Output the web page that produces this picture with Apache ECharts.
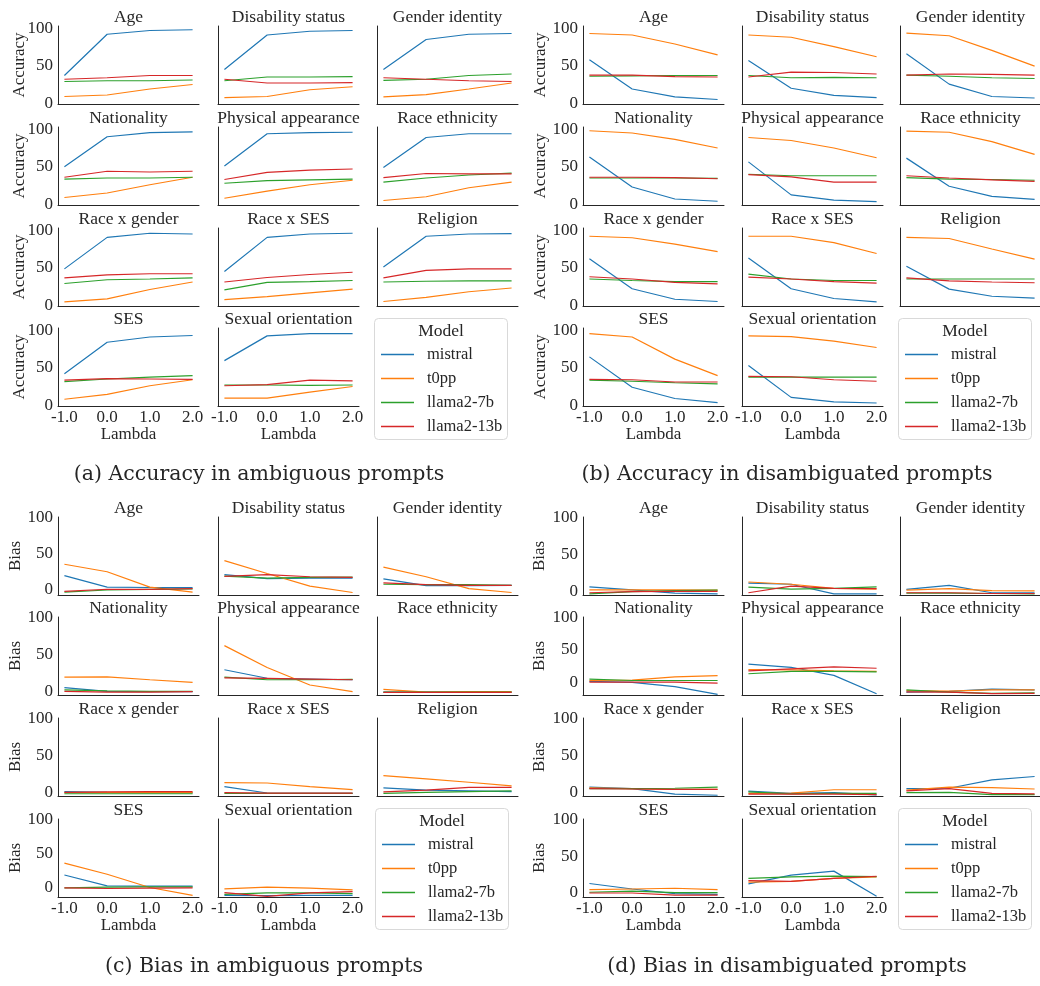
<!DOCTYPE html>
<html><head><meta charset="utf-8">
<script src="https://cdn.jsdelivr.net/npm/echarts@6/dist/echarts.min.js"></script>
<style>html,body{margin:0;padding:0;background:#fff}#c{width:1040px;height:986px}</style>
</head><body><div id="c"></div>
<script>
const categories = ['Age','Disability status','Gender identity','Nationality','Physical appearance','Race ethnicity','Race x gender','Race x SES','Religion','SES','Sexual orientation'];
const models = ['mistral','t0pp','llama2-7b','llama2-13b'];
const lambdas = [-1.0, 0.0, 1.0, 2.0];
const xTicks = [-1, 0, 1, 2];
const yTicks = [0, 50, 100];

// (a) Accuracy in ambiguous prompts — one row per category, values at lambdas
const accAmbMistral = [[37,92,97,98],[45,91,96,97],[45,85,92,93],[50,90,95.5,96.5],[51,94,95.5,96],[49,89,94,94],[48.5,90.5,96,95],[45,90.5,95,96],[51,92,95,95.5],[42,84,91,93],[59.5,92.5,95.5,95.5]];
const accAmbT0pp = [[9,11,19,25],[7.5,9,18,22],[8.5,11.5,19,27],[9,15,26,36],[8,17.5,26,32],[5,10,22,29.5],[4.5,8.5,21,31],[7.5,11.5,16.5,21.5],[5,10.5,18,23],[8,14.5,26,34],[9.5,9.5,17.5,25]];
const accAmbLlama7 = [[29,30,30,31],[30,35,35,35.5],[30.5,32,37,39],[33.5,35,35,36],[28,31.5,32.5,33.5],[29.5,35,39,41.5],[29,34,35,36.5],[20.5,30.5,31.5,33],[31,32,32.5,32.5],[31.5,35,37.5,39.5],[27,27,26.5,27]];
const accAmbLlama13 = [[32,34,37,37],[32,27,27,27.5],[34,32,30,29],[36,44,43,44],[33,42.5,45.5,47],[35.5,41,40.5,40.5],[36.5,40.5,42,42],[31,37,41,44],[36.5,46.5,48.5,48.5],[33.5,35.5,35,34.5],[26,27.5,33.5,32.5]];

// (b) Accuracy in disambiguated prompts
const accDisMistral = [[58,19,8.5,5],[57,20,10.5,7.5],[66,25.5,9,7],[63,23,7,4],[56.5,12.5,5.5,3.5],[61.5,24,10.5,6.5],[62,22,8,5],[63,22,9,4.5],[52,21.5,12,9.5],[64.5,24,9,3.5],[53,10.5,4.5,3]];
const accDisT0pp = [[93,91,79,64.5],[91,88,75.5,62],[93.5,90,70.5,49.5],[98,95,86.5,75],[89,85,75,62],[97.5,96,83.5,66.5],[92,90,81.5,71.5],[92,92,83.5,69],[90.5,89,75,61.5],[95.5,91,61.5,39.5],[92.5,91.5,85.5,77]];
const accDisLlama7 = [[36,36.5,37,37],[37,34,34.5,34],[37.5,36,34,33],[35,35,35,34.5],[40,38,38,38],[35.5,33.5,33,32],[35,33,31.5,31.5],[41.5,35,33,33],[35,35,35,35],[33.5,32,30,28.5],[37.5,37.5,37.5,37.5]];
const accDisLlama13 = [[37.5,37.5,35.5,35],[35,41.5,41,39],[37.5,39,38.5,37.5],[36,36,35.5,34],[39.5,36.5,29.5,29.5],[38,35,32.5,30.5],[38,35,30.5,28.5],[37.5,35,31.5,29.5],[36.5,32.5,31,30],[34.5,34,31,31],[38.5,38,34,32]];

// (c) Bias in ambiguous prompts
const biasAmbMistral = [[19,3,2.5,2.5],[20.5,15,15.5,15.5],[14.5,5,5,5.5],[6,1,0.5,0.5],[30,18.5,17.5,16.5],[0,0,0,0],[2,1,0.5,0.5],[8.5,0,-0.5,-0.5],[7,4,3,2],[18.5,2.5,2,2],[-11.5,-12,-11.5,-11.5]];
const biasAmbT0pp = [[35,24.5,3,-4],[40,22,4.5,-4.5],[31,17.5,1,-4.5],[20,20.5,16.5,13],[62.5,33,9.5,0.5],[3.5,0,0.5,0.5],[0.5,0.5,0.5,0.5],[14,13.5,8.5,4.5],[23.5,19,14.5,9.5],[36,19.5,0,-11.5],[-2,0.5,-1,-3.5]];
const biasAmbLlama7 = [[-4,-1,0,0.5],[18.5,15.5,16.5,17],[7,6.5,6.5,5.5],[3,1.5,1,1],[20,16.5,16.5,17],[0,0,0,0],[-1,-1,-1,-1],[-0.5,-0.5,-0.5,-0.5],[-0.5,1,2,3],[-0.5,0.5,1,1],[-10,-8,-8,-9]];
const biasAmbLlama13 = [[-3,0,0,1],[18,20.5,17.5,16.5],[9,6.5,5.5,5.5],[1,0,0,0.5],[19,18.5,17.5,16.5],[-0.5,-0.5,-0.5,-0.5],[1,1.5,2,2],[0.5,0,0,0],[1.5,4,7.5,7.5],[-0.5,-1.5,-1,-0.5],[-7.5,-13,-8,-6]];

// (d) Bias in disambiguated prompts
const biasDisMistral = [[7,3,-1.5,-2.5],[12,10.5,-2.5,-2.5],[3.5,9,-1,-1],[1,-0.5,-7,-19],[28,23,10.5,-18],[-15.5,-14.5,-11,-12],[7,5,-2.5,-4],[1.5,-1.5,-0.5,-3.5],[5,5.5,17,21.5],[12.5,5,-1.5,-2.5],[12,24,29.5,-5]];
const biasDisT0pp = [[3,3,3,2.5],[13.5,10.5,5,4],[2.5,4.5,2,1.5],[2.5,3,8,10],[19.5,19,17.5,16.5],[-13,-14,-12,-12],[6,5,4,4],[-1.5,-1,3.5,3.5],[3,7,6.5,4.5],[4,5,6,4],[14.5,15.5,19.5,21.5]];
const biasDisLlama7 = [[-2.5,0.5,2,2.5],[6.5,4,5,7],[-1.5,-1.5,-2,-2.5],[4.5,2.5,2.5,2.5],[13,16.5,16.5,16],[-12,-15.5,-17.5,-16.5],[5,5,5.5,7],[0.5,-2,-1.5,-1.5],[-0.5,0,-3,-3],[0.5,2,0,0],[19.5,21.5,22.5,22]];
const biasDisLlama13 = [[-1,0.5,1,1],[-1,8,5,4.5],[-1,-1,-2,-2],[0,0,0,-1.5],[17.5,20.5,23.5,21.5],[-15,-15.5,-18,-17.5],[5,4.5,4,4],[-2.5,-2.5,-2.5,-3],[2,5,-1.5,-2],[-0.5,-0.5,-3.5,-3.5],[16.5,15.5,19.5,22.5]];

const colors = ['#1f77b4','#ff7f0e','#2ca02c','#d62728'];
const FONT = 'Liberation Serif';
const CAPFONT = 'DejaVu Serif';
const TXT = '#262626';
const colW = 141, rowH = 78;

const panels = [
  {data:[accAmbMistral,accAmbT0pp,accAmbLlama7,accAmbLlama13], cols:[58,218,377], rows:[26,127,228,328], yName:'Accuracy', yNameX:19.5,
   yr:[[-1,103],[-1,103],[-1,103],[-1,103]], caption:'(a) Accuracy in ambiguous prompts', capX:259, capY:475, box:[374,318]},
  {data:[accDisMistral,accDisT0pp,accDisLlama7,accDisLlama13], cols:[583,742,900], rows:[26,127,228,328], yName:'Accuracy', yNameX:540.5,
   yr:[[-1,103],[-1,103],[-1,103],[-1,103]], caption:'(b) Accuracy in disambiguated prompts', capX:787, capY:475, box:[898,318]},
  {data:[biasAmbMistral,biasAmbT0pp,biasAmbLlama7,biasAmbLlama13], cols:[58,218,377], rows:[517,617,718,819], yName:'Bias', yNameX:15.5,
   yr:[[-8,101],[-4,101],[-4,101],[-14,101]], caption:'(c) Bias in ambiguous prompts', capX:264, capY:967, box:[375,808]},
  {data:[biasDisMistral,biasDisT0pp,biasDisLlama7,biasDisLlama13], cols:[583,742,900], rows:[517,617,718,819], yName:'Bias', yNameX:540,
   yr:[[-4,101],[-20,101],[-5,101],[-6,101]], caption:'(d) Bias in disambiguated prompts', capX:787, capY:967, box:[898,808]}
];

const grids=[], xAxes=[], yAxes=[], series=[], graphics=[], legends=[];
function txt(x,y,text,size,family,extra){
  return Object.assign({type:'text', x:x, y:y, silent:true, style:{text:text, fontSize:size, fontFamily:family, fill:TXT,
    textAlign:'center', align:'center', textVerticalAlign:'middle', verticalAlign:'middle'}}, extra||{});
}
panels.forEach(p=>{
  categories.forEach((cat,i)=>{
    const r=Math.floor(i/3), c=i%3;
    const left=p.cols[c], top=p.rows[r];
    const gi=grids.length;
    grids.push({left:left, top:top, width:colW, height:rowH, containLabel:false, outerBoundsMode:'none'});
    xAxes.push({gridIndex:gi, type:'value', min:-1.15, max:2.15,
      axisLine:{show:true, onZero:false, lineStyle:{color:TXT, width:1}}, axisTick:{show:false}, splitLine:{show:false},
      axisLabel:{show:r===3, customValues:xTicks, formatter:v=>v.toFixed(1), fontFamily:FONT, fontSize:17, color:TXT, margin:3}});
    yAxes.push({gridIndex:gi, type:'value', min:p.yr[r][0], max:p.yr[r][1],
      axisLine:{show:true, onZero:false, lineStyle:{color:TXT, width:1}}, axisTick:{show:false}, splitLine:{show:false},
      axisLabel:{show:c===0, customValues:yTicks, fontFamily:FONT, fontSize:17, color:TXT, margin:5}});
    p.data.forEach((arr,m)=>{
      series.push({type:'line', name:models[m], xAxisIndex:gi, yAxisIndex:gi,
        data:lambdas.map((x,k)=>[x,arr[i][k]]), symbol:'none', showSymbol:false,
        lineStyle:{width:1.2, color:colors[m]}, itemStyle:{color:colors[m]},
        emphasis:{disabled:true}, animation:false, silent:true, z:2+m});
    });
    graphics.push(txt(left+colW/2, top-8.5, cat, 17.5, FONT));
    if(c===0) graphics.push(txt(p.yNameX, top+rowH/2, p.yName, 17, FONT, {rotation:Math.PI/2}));
    if(r===3) graphics.push(txt(left+colW/2, top+rowH+29, 'Lambda', 17, FONT));
  });
  const bx=p.box[0], by=p.box[1];
  graphics.push({type:'rect', silent:true, shape:{x:bx+0.5, y:by+0.5, width:133, height:121, r:4},
    style:{fill:'#fff', stroke:'#d9d9d9', lineWidth:1}, z:0});
  graphics.push(Object.assign(txt(bx+67, by+13, 'Model', 17.5, FONT), {z:1}));
  legends.push({data:models, orient:'vertical', left:bx+7, top:by+28, itemWidth:33, itemHeight:1.5, itemGap:7,
    icon:'rect', padding:0, selectedMode:false,
    textStyle:{fontFamily:FONT, fontSize:16.5, color:TXT, padding:[0,0,0,8]}});
  graphics.push(txt(p.capX, p.capY, p.caption, 20.5, CAPFONT));
});

const chart = echarts.init(document.getElementById('c'), null, {renderer:'canvas'});
chart.setOption({
  animation:false, backgroundColor:'#fff', color:colors,
  grid:grids, xAxis:xAxes, yAxis:yAxes, series:series, legend:legends, graphic:graphics
});
</script></body></html>
